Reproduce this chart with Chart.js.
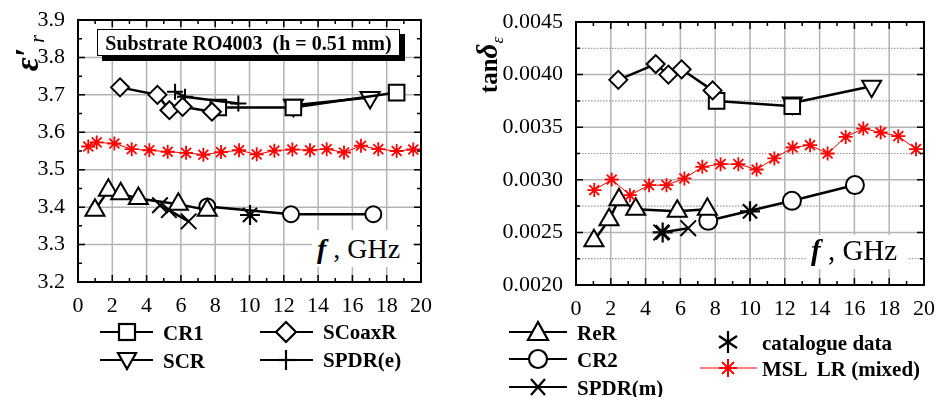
<!DOCTYPE html>
<html><head><meta charset="utf-8">
<script src="https://cdn.jsdelivr.net/npm/chart.js@4.4.1/dist/chart.umd.min.js"></script>
<style>
html,body{margin:0;padding:0;background:#fff}
body{width:938px;height:397px;position:relative;overflow:hidden;font-family:'Liberation Serif','Times New Roman',serif;color:#000}
canvas{position:absolute;top:0}
#c1{left:0}
#c2{left:470px}
.abs{position:absolute;white-space:pre;line-height:1}
.leg{position:absolute;font:bold 21px 'Liberation Serif',serif;white-space:pre;transform:translateY(-50%);line-height:1}
.wbox{position:absolute;background:#fff}
.rot{position:absolute;transform:translate(-50%,-50%) rotate(-90deg);white-space:nowrap;line-height:1}
#sub{position:absolute;left:97px;top:29px;width:301px;height:25px;border:1px solid #000;background:#fff;box-shadow:5px 5px 0 #000;font:bold 20px 'Liberation Serif',serif;text-align:center;line-height:26px;white-space:pre}
svg{position:absolute;left:0;top:0}
</style></head>
<body>
<canvas id="c1" width="440" height="330"></canvas>
<canvas id="c2" width="468" height="330"></canvas>

<div id="sub">Substrate RO4003  (h = 0.51 mm)</div>

<div class="wbox" style="left:312px;top:230px;width:101px;height:37px"></div>
<div class="abs" style="left:317px;top:235px;font-size:28px"><b><i>f</i></b> , GHz</div>
<div class="wbox" style="left:807px;top:235px;width:100px;height:34px"></div>
<div class="abs" style="left:811px;top:236px;font-size:29px"><b><i>f</i></b> , GHz</div>

<div class="rot" style="left:27px;top:53px"><span style="font:bold italic 34px 'Liberation Serif',serif">ε′</span><span style="font:italic 20px 'Liberation Serif',serif;position:relative;top:6px"> r</span></div>
<div class="rot" style="left:487px;top:65px"><span style="font:bold 25px 'Liberation Serif',serif">tan</span><span style="font:bold italic 29px 'Liberation Serif',serif">δ</span><span style="font:italic 17px 'Liberation Serif',serif;position:relative;top:6px">ε</span></div>

<svg width="938" height="397" viewBox="0 0 938 397">
  <g stroke="#000" stroke-width="2.2" fill="#fff">
    <!-- left legend -->
    <line x1="100" y1="332" x2="153" y2="332"/><rect x="119" y="324" width="16" height="16"/>
    <line x1="100" y1="360" x2="153" y2="360"/><polygon points="118,353 136,353 127,369"/>
    <line x1="260" y1="332" x2="313" y2="332"/><polygon points="286,322 296,332 286,342 276,332"/>
    <line x1="260" y1="360" x2="313" y2="360"/><line x1="286" y1="350" x2="286" y2="370"/><line x1="277" y1="360" x2="295" y2="360"/>
    <!-- right legend -->
    <line x1="509" y1="332" x2="567" y2="332"/><polygon points="538,322 548,340 528,340"/>
    <line x1="509" y1="359" x2="567" y2="359"/><circle cx="538" cy="359" r="9"/>
    <line x1="509" y1="387" x2="567" y2="387"/><line x1="531" y1="379" x2="545" y2="395"/><line x1="545" y1="379" x2="531" y2="395"/>
    <line x1="728" y1="331" x2="728" y2="353"/><line x1="719" y1="336" x2="737" y2="348"/><line x1="737" y1="336" x2="719" y2="348"/>
  </g>
  <g stroke="#ff0000" fill="none">
    <line x1="700" y1="368" x2="757" y2="368" stroke-width="1"/>
    <g stroke-width="2"><line x1="728" y1="359" x2="728" y2="377"/><line x1="719" y1="368" x2="737" y2="368"/><line x1="722" y1="362" x2="734" y2="374"/><line x1="734" y1="362" x2="722" y2="374"/></g>
  </g>
</svg>

<div class="leg" style="left:163px;top:333px">CR1</div>
<div class="leg" style="left:163px;top:361px">SCR</div>
<div class="leg" style="left:323px;top:332px">SCoaxR</div>
<div class="leg" style="left:323px;top:360px">SPDR(e)</div>
<div class="leg" style="left:577px;top:333px">ReR</div>
<div class="leg" style="left:577px;top:360px">CR2</div>
<div class="leg" style="left:577px;top:388px">SPDR(m)</div>
<div class="leg" style="left:762px;top:343px">catalogue data</div>
<div class="leg" style="left:762px;top:369px">MSL  LR (mixed)</div>

<script>
// ---------------- Left panel (epsilon' r) ----------------
const fCR1_e   = [8.18, 12.56, 18.58];
const eCR1     = [3.666, 3.666, 3.706];
const fSCR_e   = [12.56, 17.03];
const eSCR     = [3.672, 3.693];
const fSCoax_e = [2.45, 4.63, 5.33, 6.1, 7.81];
const eSCoax   = [3.72, 3.70, 3.659, 3.668, 3.655];
const fSPDRe_e = [5.66, 6.24, 9.35];
const eSPDRe   = [3.708, 3.695, 3.677];
const fReR_e   = [0.99, 1.77, 2.49, 3.52, 5.85, 7.54];
const eReR     = [3.392, 3.445, 3.436, 3.423, 3.408, 3.392];
const fCR2_e   = [7.54, 12.42, 17.22];
const eCR2     = [3.402, 3.381, 3.381];
const fSPDRm_e = [4.78, 5.3, 6.45];
const eSPDRm   = [3.405, 3.392, 3.362];
const fCat_e   = [10.03];
const eCat     = [3.379];
const fMSL_e   = [0.6, 1.09, 2.12, 3.13, 4.16, 5.23, 6.3, 7.31, 8.34, 9.39, 10.42, 11.45, 12.5, 13.53, 14.5, 15.51, 16.5, 17.51, 18.58, 19.55];
const eMSL     = [3.562, 3.573, 3.570, 3.555, 3.552, 3.548, 3.545, 3.540, 3.547, 3.552, 3.541, 3.551, 3.554, 3.552, 3.555, 3.546, 3.564, 3.555, 3.550, 3.554];

// ---------------- Right panel (tan delta) ----------------
const fSCoax_t = [2.43, 4.58, 5.31, 6.07, 7.85];
const tSCoax   = [0.00395, 0.0041, 0.0040, 0.00405, 0.00385];
const fCR1_t   = [8.08, 12.43];
const tCR1     = [0.00375, 0.0037];
const fSCR_t   = [12.43, 16.99];
const tSCR     = [0.00373, 0.00389];
const fReR_t   = [1.03, 1.9, 2.47, 3.43, 5.82, 7.55];
const tReR     = [0.00242, 0.00262, 0.00281, 0.00272, 0.0027, 0.00272];
const fCR2_t   = [7.6, 12.41, 16.03];
const tCR2     = [0.00261, 0.0028, 0.00295];
const fSPDRm_t = [4.9, 6.45];
const tSPDRm   = [0.0025, 0.00254];
const fCat_t   = [4.98, 10.0];
const tCat     = [0.0025, 0.0027];
const fMSL_t   = [1.05, 2.05, 3.1, 4.2, 5.2, 6.23, 7.26, 8.31, 9.33, 10.38, 11.4, 12.45, 13.45, 14.46, 15.5, 16.51, 17.51, 18.52, 19.54];
const tMSL     = [0.002902, 0.003003, 0.002854, 0.002949, 0.002949, 0.003013, 0.003123, 0.003149, 0.003149, 0.003098, 0.003203, 0.003307, 0.003329, 0.00325, 0.003408, 0.003487, 0.00345, 0.003415, 0.003291];

// axis ticks
const xTicks = [0, 2, 4, 6, 8, 10, 12, 14, 16, 18, 20];
const epsTicks = [3.2, 3.3, 3.4, 3.5, 3.6, 3.7, 3.8, 3.9];
const tanTicks = [0.0020, 0.0025, 0.0030, 0.0035, 0.0040, 0.0045];

const pts = (xs, ys) => xs.map((x, i) => ({x: x, y: ys[i]}));

function blk(label, xs, ys, style, r, extra) {
  return Object.assign({
    label: label, data: pts(xs, ys), showLine: true,
    borderColor: '#000', borderWidth: 2.5,
    pointStyle: style, pointRadius: r, pointHoverRadius: r,
    pointBorderColor: '#000', pointBackgroundColor: '#fff', pointBorderWidth: 2,
    tension: 0
  }, extra || {});
}
function red(label, xs, ys) {
  return {
    label: label, data: pts(xs, ys), showLine: true,
    borderColor: '#ff0000', borderWidth: 1,
    pointStyle: 'star', pointRadius: 7, pointHoverRadius: 7,
    pointBorderColor: '#ff0000', pointBorderWidth: 1.8, tension: 0
  };
}

const framePlugin = {
  id: 'frame',
  beforeDatasetsDraw(chart, args, o) {
    const ctx = chart.ctx, a = chart.chartArea, x = chart.scales.x, y = chart.scales.y;
    ctx.save();
    ctx.strokeStyle = '#b4b4b4'; ctx.lineWidth = 1.5;
    ctx.beginPath();
    for (const v of o.xt) { const p = x.getPixelForValue(v); ctx.moveTo(p, a.top); ctx.lineTo(p, a.bottom); }
    for (const v of o.yt) { const p = y.getPixelForValue(v); ctx.moveTo(a.left, p); ctx.lineTo(a.right, p); }
    ctx.stroke();
    if (o.dotted) {
      ctx.setLineDash([1.5, 1.5]); ctx.lineWidth = 1.2; ctx.strokeStyle = '#999';
      ctx.beginPath();
      for (let i = 0; i < o.yt.length - 1; i++) {
        const p = y.getPixelForValue((o.yt[i] + o.yt[i + 1]) / 2);
        ctx.moveTo(a.left, p); ctx.lineTo(a.right, p);
      }
      ctx.stroke();
    }
    ctx.restore();
  },
  afterDatasetsDraw(chart, args, o) {
    const ctx = chart.ctx, a = chart.chartArea, x = chart.scales.x, y = chart.scales.y;
    ctx.save();
    ctx.strokeStyle = '#000'; ctx.lineWidth = 1.5;
    ctx.beginPath();
    for (let i = 0; i < o.xt.length; i++) {
      const p = x.getPixelForValue(o.xt[i]);
      ctx.moveTo(p, a.bottom); ctx.lineTo(p, a.bottom - 7);
      ctx.moveTo(p, a.top); ctx.lineTo(p, a.top + 7);
      if (i < o.xt.length - 1) {
        const q = x.getPixelForValue((o.xt[i] + o.xt[i + 1]) / 2);
        ctx.moveTo(q, a.bottom); ctx.lineTo(q, a.bottom - 4);
        ctx.moveTo(q, a.top); ctx.lineTo(q, a.top + 4);
      }
    }
    for (let i = 0; i < o.yt.length; i++) {
      const p = y.getPixelForValue(o.yt[i]);
      ctx.moveTo(a.left, p); ctx.lineTo(a.left + 7, p);
      ctx.moveTo(a.right, p); ctx.lineTo(a.right - 7, p);
      if (i < o.yt.length - 1) {
        const q = y.getPixelForValue((o.yt[i] + o.yt[i + 1]) / 2);
        ctx.moveTo(a.left, q); ctx.lineTo(a.left + 4, q);
        ctx.moveTo(a.right, q); ctx.lineTo(a.right - 4, q);
      }
    }
    ctx.stroke();
    ctx.lineWidth = 2;
    ctx.strokeRect(a.left, a.top, a.right - a.left, a.bottom - a.top);
    ctx.restore();
  }
};

function makeChart(id, datasets, yTicks, yDigits, yw, xh, pad, dotted) {
  return new Chart(document.getElementById(id), {
    type: 'scatter',
    data: { datasets: datasets },
    plugins: [framePlugin],
    options: {
      responsive: false, animation: false, devicePixelRatio: 1,
      layout: { padding: pad },
      plugins: {
        legend: { display: false }, tooltip: { enabled: false },
        frame: { xt: xTicks, yt: yTicks, dotted: dotted }
      },
      scales: {
        x: {
          type: 'linear', min: xTicks[0], max: xTicks[xTicks.length - 1],
          grid: { display: false }, border: { display: false },
          afterBuildTicks: s => { s.ticks = xTicks.map(v => ({value: v})); },
          ticks: { color: '#000', padding: 3, maxRotation: 0, autoSkip: false,
                   font: { family: "'Liberation Serif', serif", size: 22 },
                   callback: v => String(v) },
          afterFit: s => { s.height = xh; }
        },
        y: {
          type: 'linear', min: yTicks[0], max: yTicks[yTicks.length - 1],
          grid: { display: false }, border: { display: false },
          afterBuildTicks: s => { s.ticks = yTicks.map(v => ({value: v})); },
          ticks: { color: '#000', padding: 5, autoSkip: false,
                   font: { family: "'Liberation Serif', serif", size: 22 },
                   callback: v => Number(v).toFixed(yDigits) },
          afterFit: s => { s.width = yw; }
        }
      }
    }
  });
}

makeChart('c1', [
  red('MSL  LR (mixed)', fMSL_e, eMSL),
  blk('SCoaxR', fSCoax_e, eSCoax, 'rectRot', 9),
  blk('SPDR(e)', fSPDRe_e, eSPDRe, 'cross', 8),
  blk('CR1', fCR1_e, eCR1, 'rect', 11),
  blk('SCR', fSCR_e, eSCR, 'triangle', 11, { pointRotation: 180 }),
  blk('ReR', fReR_e, eReR, 'triangle', 11),
  blk('SPDR(m)', fSPDRm_e, eSPDRm, 'crossRot', 11),
  blk('CR2', fCR2_e, eCR2, 'circle', 8),
  blk('catalogue data', fCat_e, eCat, 'star', 10, { showLine: false, pointBorderWidth: 2.2 })
], epsTicks, 1, 78, 48, { top: 20, right: 19, left: 0, bottom: 0 }, false);

makeChart('c2', [
  red('MSL  LR (mixed)', fMSL_t, tMSL),
  blk('SCoaxR', fSCoax_t, tSCoax, 'rectRot', 9),
  blk('CR1', fCR1_t, tCR1, 'rect', 11),
  blk('SCR', fSCR_t, tSCR, 'triangle', 11, { pointRotation: 180 }),
  blk('ReR', fReR_t, tReR, 'triangle', 11),
  blk('SPDR(m)', fSPDRm_t, tSPDRm, 'crossRot', 11),
  blk('CR2', fCR2_t, tCR2, 'circle', 9),
  blk('catalogue data', fCat_t, tCat, 'star', 10, { showLine: false, pointBorderWidth: 2.2 })
], tanTicks, 4, 106, 45, { top: 22, right: 14, left: 0, bottom: 0 }, true);
</script>
</body></html>
